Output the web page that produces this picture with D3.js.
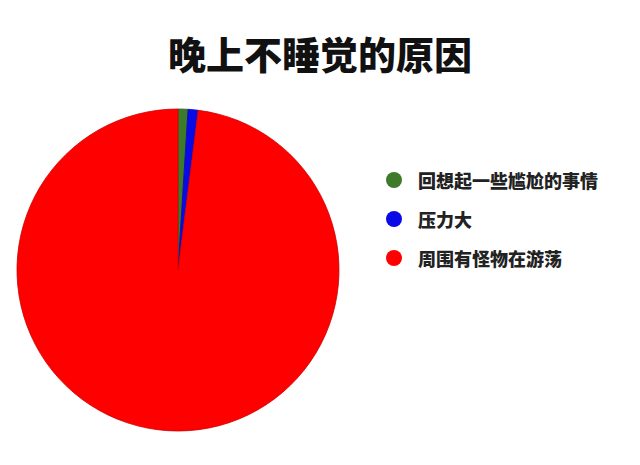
<!DOCTYPE html>
<html>
<head>
<meta charset="utf-8">
<script src="https://cdn.jsdelivr.net/npm/d3@7"></script>
<style>
  body { margin: 0; background: #fff; }
  text { font-family: "Noto Sans CJK SC", sans-serif; }
</style>
</head>
<body>
<div id="chart"></div>
<script>
// data
var categories = ["回想起一些尴尬的事情", "压力大", "周围有怪物在游荡"];
var values = [1, 1, 98];
var colors = ["#3d7a2a", "#0a0ae6", "#ff0000"];
var title = "晚上不睡觉的原因";

var width = 640, height = 465;
var cx = 178, cy = 270, radius = 161;

var svg = d3.select("#chart").append("svg")
  .attr("width", width)
  .attr("height", height);

svg.append("rect")
  .attr("width", width)
  .attr("height", height)
  .attr("fill", "#fff");

// title
svg.append("text")
  .attr("x", 320)
  .attr("y", 52)
  .attr("text-anchor", "middle")
  .attr("dominant-baseline", "central")
  .style("font-size", "38px")
  .style("font-weight", "900")
  .style("fill", "#111")
  .text(title);

// pie
var color = d3.scaleOrdinal().domain(categories).range(colors);
var pie = d3.pie().sort(null).value(function(d) { return d.value; });
var arc = d3.arc().innerRadius(0).outerRadius(radius);

var data = categories.map(function(c, i) { return { name: c, value: values[i] }; });

var g = svg.append("g")
  .attr("transform", "translate(" + cx + "," + cy + ")");

g.selectAll("path")
  .data(pie(data))
  .enter().append("path")
  .attr("d", arc)
  .attr("fill", function(d) { return color(d.data.name); })
  .attr("stroke", function(d) { return d3.color(color(d.data.name)).darker(0.6); })
  .attr("stroke-width", 0.8);

// legend
var legend = svg.append("g")
  .attr("transform", "translate(394,180)");

var item = legend.selectAll("g")
  .data(categories)
  .enter().append("g")
  .attr("transform", function(d, i) { return "translate(0," + (i * 39) + ")"; });

item.append("circle")
  .attr("r", 8)
  .attr("fill", function(d) { return color(d); });

item.append("text")
  .attr("x", 24)
  .attr("dominant-baseline", "central")
  .style("font-size", "18px")
  .style("font-weight", "900")
  .style("fill", "#222")
  .text(function(d) { return d; });
</script>
</body>
</html>
